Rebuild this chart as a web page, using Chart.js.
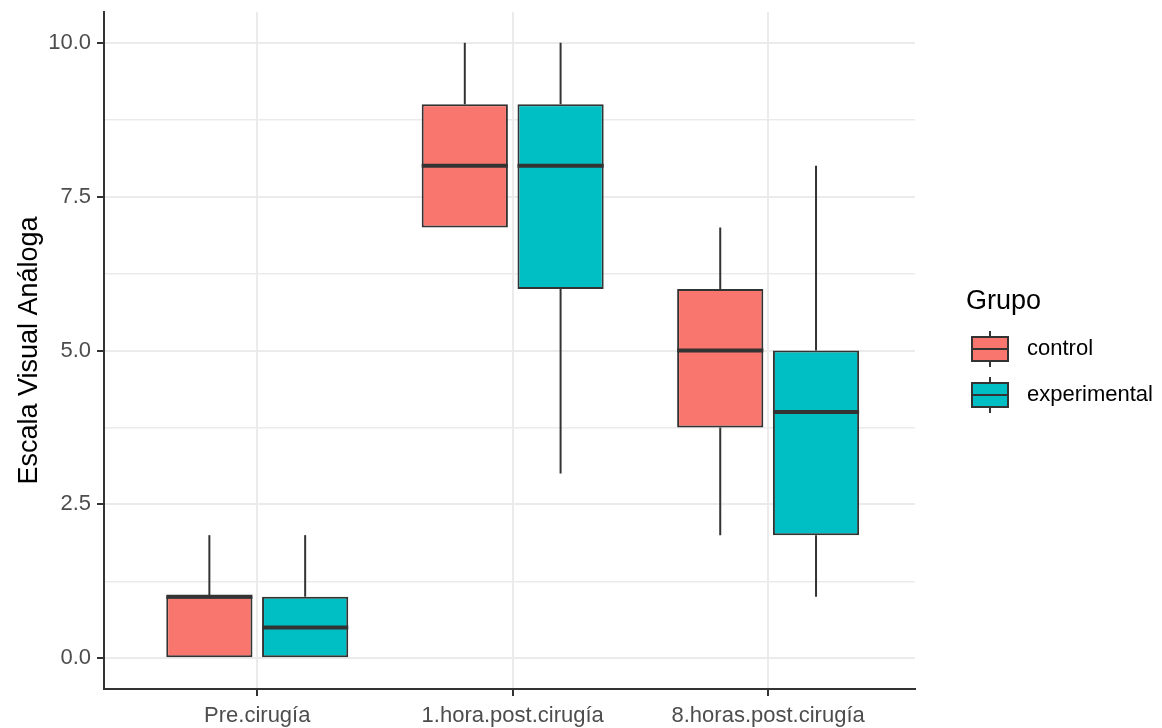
<!DOCTYPE html>
<html>
<head>
<meta charset="utf-8">
<script src="https://cdn.jsdelivr.net/npm/chart.js@4.4.1/dist/chart.umd.min.js"></script>
<style>
  html, body { margin: 0; padding: 0; background: #ffffff; }
  #wrap { width: 1162px; height: 728px; }
</style>
</head>
<body>
<div id="wrap"><canvas id="c" width="1162" height="728"></canvas></div>
<script>
// Time points on the x axis
const categories = ['Pre.cirugía', '1.hora.post.cirugía', '8.horas.post.cirugía'];
const groups = ['control', 'experimental'];
const groupColors = ['#F8766D', '#00BFC4'];

// Five-number summaries for each group, one value per time point
const controlMin    = [0, 7, 2];
const controlQ1     = [0, 7, 3.75];
const controlMedian = [1, 8, 5];
const controlQ3     = [1, 9, 6];
const controlMax    = [2, 10, 7];

const experimentalMin    = [0, 3, 1];
const experimentalQ1     = [0, 6, 2];
const experimentalMedian = [0.5, 8, 4];
const experimentalQ3     = [1, 9, 5];
const experimentalMax    = [2, 10, 8];

// y gridlines: labelled every 2.5, minor lines in between
const yTicks = [0, 1.25, 2.5, 3.75, 5, 6.25, 7.5, 8.75, 10];
const yLabelled = [0, 2.5, 5, 7.5, 10];

const FONT = '"Liberation Sans", Arial, sans-serif';
const INK = '#333333';

function boxData(mins, q1s, meds, q3s, maxs) {
  return categories.map((c, i) => ({
    x: i + 1, y: [q1s[i], q3s[i]],
    min: mins[i], median: meds[i], max: maxs[i]
  }));
}

const series = [
  boxData(controlMin, controlQ1, controlMedian, controlQ3, controlMax),
  boxData(experimentalMin, experimentalQ1, experimentalMedian, experimentalQ3, experimentalMax)
];

// Whiskers and median bars drawn on top of the floating box bars
const boxExtras = {
  id: 'boxExtras',
  afterDatasetsDraw(chart) {
    const ctx = chart.ctx;
    const y = chart.scales.y;
    ctx.save();
    chart.data.datasets.forEach((ds, di) => {
      const meta = chart.getDatasetMeta(di);
      meta.data.forEach((bar, i) => {
        const p = bar.getProps(['x', 'width'], true);
        const d = ds.data[i];
        const yq1 = y.getPixelForValue(d.y[0]);
        const yq3 = y.getPixelForValue(d.y[1]);
        ctx.strokeStyle = INK;
        ctx.lineWidth = 2;
        ctx.lineCap = 'butt';
        ctx.beginPath();
        if (d.max > d.y[1]) { ctx.moveTo(p.x, yq3); ctx.lineTo(p.x, y.getPixelForValue(d.max)); }
        if (d.min < d.y[0]) { ctx.moveTo(p.x, yq1); ctx.lineTo(p.x, y.getPixelForValue(d.min)); }
        ctx.stroke();
        const ym = y.getPixelForValue(d.median);
        ctx.lineWidth = 4;
        ctx.beginPath();
        ctx.moveTo(p.x - p.width / 2, ym);
        ctx.lineTo(p.x + p.width / 2, ym);
        ctx.stroke();
      });
    });
    ctx.restore();
  }
};

// Legend with boxplot keys on the right
const boxLegend = {
  id: 'boxLegend',
  afterDraw(chart) {
    const ctx = chart.ctx;
    ctx.save();
    ctx.fillStyle = '#000000';
    ctx.font = '27px ' + FONT;
    ctx.textAlign = 'left';
    ctx.textBaseline = 'alphabetic';
    ctx.fillText('Grupo', 966, 309);
    chart.data.datasets.forEach((ds, i) => {
      const cy = 349 + i * 46;
      const x0 = 972, w = 36, h = 24, cx = x0 + w / 2;
      ctx.strokeStyle = INK;
      ctx.lineWidth = 2;
      ctx.beginPath();
      ctx.moveTo(cx, cy - 18); ctx.lineTo(cx, cy + 18);
      ctx.stroke();
      ctx.fillStyle = ds.backgroundColor;
      ctx.fillRect(x0, cy - h / 2, w, h);
      ctx.strokeRect(x0, cy - h / 2, w, h);
      ctx.beginPath();
      ctx.moveTo(x0, cy); ctx.lineTo(x0 + w, cy);
      ctx.stroke();
      ctx.fillStyle = '#000000';
      ctx.font = '22px ' + FONT;
      ctx.textBaseline = 'middle';
      ctx.fillText(ds.label, 1027, cy);
    });
    ctx.restore();
  }
};

new Chart(document.getElementById('c'), {
  type: 'bar',
  data: {
    datasets: groups.map((g, i) => ({
      label: g,
      data: series[i],
      backgroundColor: groupColors[i],
      borderColor: INK,
      borderWidth: 2,
      borderSkipped: false,
      categoryPercentage: 0.75,
      barPercentage: 0.9
    }))
  },
  options: {
    responsive: false,
    animation: false,
    devicePixelRatio: 1,
    layout: { padding: { top: 12, right: 247, left: 0, bottom: 0 } },
    plugins: { legend: { display: false }, tooltip: { enabled: false } },
    scales: {
      x: {
        type: 'linear',
        min: 0.4,
        max: 3.575,
        offset: false,
        afterBuildTicks: s => { s.ticks = categories.map((c, i) => ({ value: i + 1 })); },
        afterFit: s => { s.height = 39; s.paddingLeft = 0; s.paddingRight = 0; },
        ticks: {
          callback: v => categories[Math.round(v) - 1] || '',
          color: '#4d4d4d',
          font: { family: FONT, size: 22 },
          padding: 7,
          maxRotation: 0,
          autoSkip: false
        },
        grid: { offset: false, color: '#ebebeb', lineWidth: 2, tickLength: 7, tickColor: INK, tickWidth: 2 },
        border: { display: true, color: INK, width: 2 }
      },
      y: {
        min: -0.5,
        max: 10.5,
        afterBuildTicks: s => { s.ticks = yTicks.map(v => ({ value: v })); },
        afterFit: s => { s.width = 104; s.paddingTop = 0; s.paddingBottom = 0; },
        ticks: {
          callback: v => yLabelled.includes(v) ? v.toFixed(1) : '',
          color: '#4d4d4d',
          font: { family: FONT, size: 22 },
          padding: 6,
          autoSkip: false
        },
        grid: {
          color: '#ebebeb',
          lineWidth: c => yLabelled.includes(c.tick.value) ? 2 : 1.4,
          tickLength: 7,
          tickColor: c => yLabelled.includes(c.tick.value) ? INK : 'rgba(0,0,0,0)',
          tickWidth: 2
        },
        border: { display: true, color: INK, width: 2 },
        title: {
          display: true,
          text: 'Escala Visual Análoga',
          color: '#000000',
          font: { family: FONT, size: 27 },
          padding: { top: 13, bottom: 0 }
        }
      }
    }
  },
  plugins: [boxExtras, boxLegend]
});
</script>
</body>
</html>
